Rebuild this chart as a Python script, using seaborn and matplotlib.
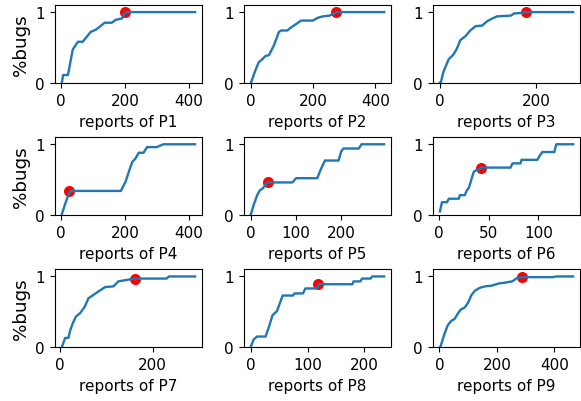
import numpy as np
import matplotlib
matplotlib.use("Agg")
import matplotlib.pyplot as plt
import seaborn as sns

# cumulative share of bugs found vs. number of reports
p1_x = [3, 7, 22, 37, 53, 68, 93, 109, 137, 159, 171, 191, 198, 205, 419]
p1_y = [0, 0.11, 0.11, 0.47, 0.58, 0.58, 0.72, 0.75, 0.85, 0.85, 0.89, 0.91, 0.98, 1.0, 1.0]

p2_x = [0, 14, 25, 36, 47, 58, 74, 90, 98, 117, 128, 145, 161, 199, 215, 232, 253, 270, 275, 428]
p2_y = [0, 0.17, 0.29, 0.33, 0.38, 0.39, 0.53, 0.72, 0.74, 0.74, 0.78, 0.83, 0.88, 0.88, 0.92, 0.94, 0.95, 0.99, 1.0, 1.0]

p3_x = [0, 2, 7, 18, 28, 35, 42, 53, 63, 74, 88, 98, 109, 119, 147, 154, 172, 179, 277]
p3_y = [0, 0.01, 0.15, 0.33, 0.40, 0.48, 0.60, 0.66, 0.74, 0.80, 0.81, 0.87, 0.91, 0.94, 0.95, 0.98, 0.99, 1.0, 1.0]

p4_x = [3, 12, 23, 30, 187, 202, 212, 223, 233, 243, 258, 269, 299, 320, 419]
p4_y = [0.01, 0.14, 0.28, 0.34, 0.34, 0.47, 0.61, 0.75, 0.80, 0.88, 0.88, 0.96, 0.96, 1.0, 1.0]

p5_x = [0, 6, 14, 20, 27, 32, 38, 92, 100, 147, 155, 164, 194, 200, 205, 239, 245, 295]
p5_y = [0.01, 0.14, 0.28, 0.35, 0.38, 0.43, 0.46, 0.46, 0.52, 0.52, 0.65, 0.77, 0.77, 0.90, 0.94, 0.94, 1.0, 1.0]

p6_x = [1, 3, 8, 10, 20, 21, 26, 28, 30, 33, 35, 38, 40, 42, 72, 74, 82, 83, 99, 101, 104, 116, 118, 135]
p6_y = [0.05, 0.18, 0.18, 0.23, 0.23, 0.28, 0.28, 0.35, 0.38, 0.52, 0.61, 0.64, 0.64, 0.67, 0.67, 0.73,
        0.73, 0.78, 0.78, 0.83, 0.89, 0.89, 1.0, 1.0]

p7_x = [5, 12, 19, 23, 28, 35, 44, 54, 62, 73, 84, 98, 116, 126, 144, 159, 230, 235, 291]
p7_y = [0, 0.13, 0.13, 0.24, 0.33, 0.43, 0.48, 0.57, 0.69, 0.74, 0.79, 0.85, 0.86, 0.93, 0.95, 0.97, 0.97, 1.0, 1.0]

p8_x = [0, 5, 11, 26, 32, 38, 46, 56, 74, 77, 92, 96, 116, 120, 179, 181, 193, 196, 211, 214, 235]
p8_y = [0.01, 0.11, 0.15, 0.15, 0.29, 0.45, 0.51, 0.73, 0.73, 0.76, 0.76, 0.83, 0.83, 0.89, 0.89, 0.93,
        0.93, 0.97, 0.97, 1.0, 1.0]

p9_x = [2, 4, 18, 29, 41, 53, 65, 74, 88, 100, 112, 124, 141, 159, 182, 206, 224, 253, 271, 288, 394, 406, 465]
p9_y = [0, 0.01, 0.19, 0.31, 0.37, 0.40, 0.48, 0.53, 0.56, 0.63, 0.74, 0.80, 0.84, 0.86, 0.87, 0.90, 0.91,
        0.93, 0.98, 0.99, 0.99, 1.0, 1.0]

# red markers
dot_x = [200, 272, 178, 26, 38, 42, 162, 119, 286]
dot_y = [1.0, 1.0, 1.0, 0.34, 0.46, 0.67, 0.97, 0.89, 0.99]

names = ["P1", "P2", "P3", "P4", "P5", "P6", "P7", "P8", "P9"]
xs = [p1_x, p2_x, p3_x, p4_x, p5_x, p6_x, p7_x, p8_x, p9_x]
ys = [p1_y, p2_y, p3_y, p4_y, p5_y, p6_y, p7_y, p8_y, p9_y]
xticks = [[0, 200, 400], [0, 200, 400], [0, 200],
          [0, 200, 400], [0, 100, 200], [0, 50, 100],
          [0, 200], [0, 100, 200], [0, 200, 400]]

plt.rcParams["font.size"] = 11
plt.rcParams["font.family"] = ["DejaVu Sans"]
plt.rcParams["xtick.major.size"] = 3.9
plt.rcParams["ytick.major.size"] = 3.9

fig, axes = plt.subplots(3, 3, figsize=(5.81, 4.02), dpi=100)
fig.subplots_adjust(left=0.095, right=0.998, bottom=0.134, top=0.985, wspace=0.29, hspace=0.70)

for i, ax in enumerate(axes.flat):
    ax.scatter([dot_x[i]], [dot_y[i]], color="red", s=48, zorder=1)
    sns.lineplot(x=xs[i], y=ys[i], ax=ax, color="#1f77b4", linewidth=1.7,
                 estimator=None, sort=False, zorder=2)
    ax.set_ylim(0, 1.1)
    ax.set_yticks([0, 1])
    ax.set_xticks(xticks[i])
    ax.set_xlabel(f"reports of {names[i]}", fontsize=11)
    if i % 3 == 0:
        ax.set_ylabel("%bugs", fontsize=13.2)
    else:
        ax.set_ylabel("")

fig.savefig("out.png", dpi=100)
